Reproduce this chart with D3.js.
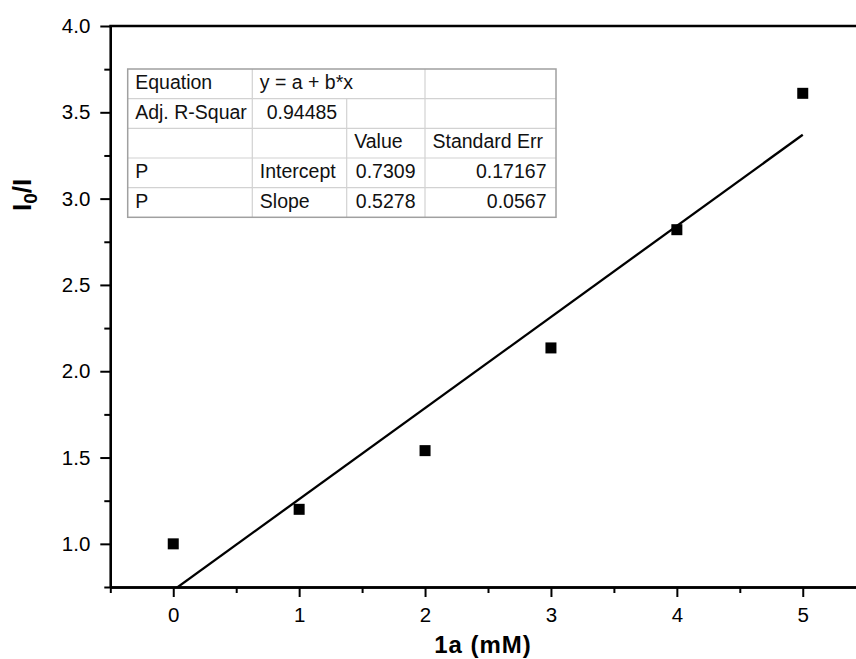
<!DOCTYPE html>
<html>
<head>
<meta charset="utf-8">
<script src="https://cdn.jsdelivr.net/npm/d3@7"></script>
<style>
  body { margin: 0; background: #fff; }
  text { font-family: "Liberation Sans", Arial, sans-serif; }
</style>
</head>
<body>
<div id="chart"></div>
<script>
// data
var concentrations = [0, 1, 2, 3, 4, 5];
var ratios = [1.0, 1.2, 1.54, 2.135, 2.82, 3.61];
var fitIntercept = 0.7309;
var fitSlope = 0.5278;

var xMajorTicks = [0, 1, 2, 3, 4, 5];
var xMinorTicks = [-0.5, 0.5, 1.5, 2.5, 3.5, 4.5, 5.5];
var yMajorTicks = [1.0, 1.5, 2.0, 2.5, 3.0, 3.5, 4.0];
var yMinorTicks = [0.75, 1.25, 1.75, 2.25, 2.75, 3.25, 3.75];

var tableRows = [
    ["Equation", "y = a + b*x", "", ""],
    ["Adj. R-Squar", "0.94485", "", ""],
    ["", "", "Value", "Standard Err"],
    ["P", "Intercept", "0.7309", "0.17167"],
    ["P", "Slope", "0.5278", "0.0567"]
];
var rightAligned = {"0.94485": 1, "0.7309": 1, "0.17167": 1, "0.5278": 1, "0.0567": 1};

function plot() {
    var width = 856;
    var height = 659;

    var left = 110.3, top = 26, bottom = 587;
    var unitX = 125.9;

    var x = d3.scaleLinear().domain([-0.5, 5.5]).range([left, left + 6 * unitX]);
    var y = d3.scaleLinear().domain([0.75, 4.0]).range([bottom, top]);

    var svg = d3.select("#chart")
        .append("svg")
        .attr("width", width)
        .attr("height", height);

    svg.append("defs").append("clipPath")
        .attr("id", "plotclip")
        .append("rect")
        .attr("x", x(-0.5))
        .attr("y", y(4.0))
        .attr("width", x(5.5) - x(-0.5))
        .attr("height", y(0.75) - y(4.0));

    // fit line
    svg.append("line")
        .attr("clip-path", "url(#plotclip)")
        .attr("x1", x(0))
        .attr("y1", y(fitIntercept))
        .attr("x2", x(5))
        .attr("y2", y(fitIntercept + fitSlope * 5))
        .attr("stroke", "#000")
        .attr("stroke-width", 2.3);

    // points
    var sq = 11;
    svg.selectAll("rect.pt")
        .data(concentrations)
        .enter()
        .append("rect")
        .attr("class", "pt")
        .attr("x", function (d) { return x(d) - sq / 2; })
        .attr("y", function (d, i) { return y(ratios[i]) - sq / 2; })
        .attr("width", sq)
        .attr("height", sq)
        .attr("fill", "#000");

    // axes
    function styleAxis(g) {
        g.selectAll("path.domain").attr("stroke", "#000").attr("stroke-width", 2.3);
        g.selectAll(".tick line").attr("stroke", "#000").attr("stroke-width", 2);
        g.selectAll(".tick text")
            .attr("fill", "#000")
            .style("font-size", "20.5px")
            .style("font-family", "'Liberation Sans', Arial, sans-serif");
    }

    var xMinor = svg.append("g")
        .attr("transform", "translate(0," + bottom + ")")
        .call(d3.axisBottom(x).tickValues(xMinorTicks).tickSize(6).tickFormat("").tickSizeOuter(0));
    styleAxis(xMinor);
    var xAxis = svg.append("g")
        .attr("transform", "translate(0," + bottom + ")")
        .call(d3.axisBottom(x).tickValues(xMajorTicks).tickSize(10).tickPadding(10)
            .tickFormat(d3.format("d")).tickSizeOuter(0));
    styleAxis(xAxis);

    var yMinor = svg.append("g")
        .attr("transform", "translate(" + left + ",0)")
        .call(d3.axisLeft(y).tickValues(yMinorTicks).tickSize(6).tickFormat("").tickSizeOuter(0));
    styleAxis(yMinor);
    var yAxis = svg.append("g")
        .attr("transform", "translate(" + left + ",0)")
        .call(d3.axisLeft(y).tickValues(yMajorTicks).tickSize(10).tickPadding(10)
            .tickFormat(d3.format(".1f")).tickSizeOuter(0));
    styleAxis(yAxis);

    // top and right frame lines
    svg.append("line")
        .attr("x1", x(-0.5) - 1).attr("x2", x(5.5))
        .attr("y1", y(4.0)).attr("y2", y(4.0))
        .attr("stroke", "#000").attr("stroke-width", 2.3);
    svg.append("line")
        .attr("x1", x(5.5)).attr("x2", x(5.5))
        .attr("y1", y(4.0)).attr("y2", y(0.75))
        .attr("stroke", "#000").attr("stroke-width", 2.3);

    // axis titles
    svg.append("text")
        .attr("x", 483)
        .attr("y", 653)
        .attr("text-anchor", "middle")
        .style("font-size", "24px")
        .style("font-weight", "bold")
        .style("letter-spacing", "1px")
        .text("1a (mM)");

    var yt = svg.append("text")
        .attr("transform", "translate(31,211) rotate(-90)")
        .attr("text-anchor", "start")
        .style("font-size", "26px")
        .style("font-weight", "bold");
    yt.append("tspan").text("I");
    yt.append("tspan").attr("dy", 6).style("font-size", "19px").text("0");
    yt.append("tspan").attr("dy", -6).text("/I");

    // fit table
    var colX = [127.7, 252.3, 346.7, 425, 556];
    var rowY = [69, 98.7, 128.3, 158, 187.7, 217.3];
    var table = svg.append("g");

    for (var r = 1; r < rowY.length - 1; r++) {
        table.append("line")
            .attr("x1", colX[0]).attr("x2", colX[4])
            .attr("y1", rowY[r]).attr("y2", rowY[r])
            .attr("stroke", "#d2d2d2").attr("stroke-width", 1.2);
    }
    for (var c = 1; c < colX.length - 1; c++) {
        table.append("line")
            .attr("x1", colX[c]).attr("x2", colX[c])
            .attr("y1", c === 2 ? rowY[1] : rowY[0]).attr("y2", rowY[5])
            .attr("stroke", "#d2d2d2").attr("stroke-width", 1.2);
    }
    table.append("rect")
        .attr("x", colX[0]).attr("y", rowY[0])
        .attr("width", colX[4] - colX[0]).attr("height", rowY[5] - rowY[0])
        .attr("fill", "none")
        .attr("stroke", "#a0a0a0").attr("stroke-width", 1.5);

    tableRows.forEach(function (row, ri) {
        row.forEach(function (cell, ci) {
            if (cell === "") return;
            var right = rightAligned[cell] === 1;
            table.append("text")
                .attr("x", right ? colX[ci + 1] - 9.5 : colX[ci] + 7.5)
                .attr("y", rowY[ri] + 20)
                .attr("text-anchor", right ? "end" : "start")
                .attr("fill", "#111")
                .style("font-size", "19.5px")
                .text(cell);
        });
    });
}

plot();
</script>
</body>
</html>
